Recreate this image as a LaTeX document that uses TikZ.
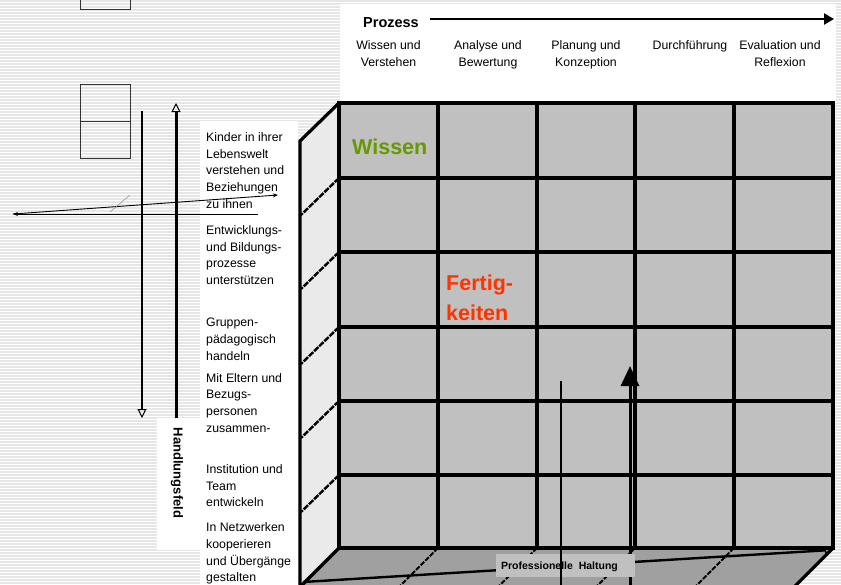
\documentclass[tikz,border=0pt]{standalone}
\usepackage{fontspec}
\setmainfont{Liberation Sans}
\usetikzlibrary{arrows.meta}
\definecolor{frontgray}{HTML}{C0C0C0}
\definecolor{sidegray}{HTML}{EAEAEA}
\definecolor{floorgray}{HTML}{A0A0A0}
\definecolor{wgreen}{HTML}{669900}
\definecolor{fred}{HTML}{FF3300}
\definecolor{stripecol}{HTML}{E6E6E6}
\begin{document}
\begin{tikzpicture}[x=1pt,y=-1pt,
  stripeline/.style={stripecol, line width=1.1pt},
  gridline/.style={line width=3.2pt, line cap=rect},
  edgeline/.style={line width=3.2pt, line cap=round},
  sidegrid/.style={line width=2.4pt, dash pattern=on 6pt off 1.2pt},
  floorgrid/.style={line width=1.8pt, dash pattern=on 5pt off 1.5pt},
  hdr/.style={font=\fontsize{12.3}{15}\selectfont, anchor=base, inner sep=0pt},
  rowlab/.style={font=\fontsize{12.3}{15}\selectfont, anchor=base west, inner sep=0pt},
  bigword/.style={font=\bfseries\fontsize{21.5}{24}\selectfont, anchor=base west, inner sep=0pt},
  smallbox/.style={draw=black!80, line width=1pt, minimum width=50pt, inner sep=0pt},
  openhead/.style={-{Triangle[open,length=9pt,width=9pt,line width=1pt]}},
  thinarrow/.style={line width=0.9pt, -{Stealth[length=5pt,width=4pt]}}
]
\clip (0,0) rectangle (841,584);
% background
\foreach \y in {1,4,...,584} \draw[stripeline] (0,\y) -- (841,\y);
\fill[white] (340,4) rectangle (836,103);
\fill[white] (200,121) rectangle (298,584);
\fill[white] (157,418) rectangle (200,550);

% small boxes on the left
\node[smallbox, minimum height=30pt, anchor=south west] (b0) at (80,9.5) {};
\node[smallbox, minimum height=37pt, anchor=north west] (b1) at (80,84) {};
\node[smallbox, minimum height=37pt, anchor=north west] (b2) at (80,121) {};

% vertical arrows left
\coordinate (dA) at (142,111);
\coordinate (dB) at (142,418);
\draw[line width=2.4pt, openhead] (dA) -- (dB);
\coordinate (uA) at (176,418);
\coordinate (uB) at (176,103);
\draw[line width=3pt, openhead] (uA) -- (uB);

% thin arrows
\coordinate (h1) at (258,214);
\coordinate (h0) at (13,214);
\coordinate (s1) at (278,195);
\draw[thinarrow] (h1) -- (h0);
\draw[thinarrow] (h0) -- (s1);
\coordinate (g0) at (110,212);
\coordinate (g1) at (130,195);
\draw[black!40, line width=0.6pt] (g0) -- (g1);

% cube faces
\fill[sidegray] (339,103) -- (300,141) -- (300,590) -- (339,548) -- cycle;
\fill[floorgray] (339,548) -- (833,548) -- (795,586) -- (301,586) -- cycle;
\fill[frontgray] (339,103) rectangle (833,548);

% side and floor grid
\foreach \y in {178,252,327,401,475} \draw[sidegrid] (339,\y) -- (301,\y+37);
\foreach \x in {438,537,635,734} \draw[floorgrid] (\x,548) -- (\x-38,586);
\draw[edgeline] (339,103) -- (300,141) -- (300,590);
\draw[edgeline] (339,548) -- (301,586);
\draw[edgeline] (833,548) -- (795,586);

% front grid
\foreach \x in {339,438,537,635,734,833} \draw[gridline] (\x,103) -- (\x,548);
\foreach \y in {103,178,252,327,401,475,548} \draw[gridline] (339,\y) -- (833,\y);

% process header
\node[font=\bfseries\fontsize{14.5}{16}\selectfont, anchor=base west, inner sep=0pt] (prozess) at (363,27) {Prozess};
\coordinate (pA) at (430,19);
\coordinate (pB) at (834,19);
\draw[line width=2.2pt, -{Triangle[length=10pt,width=11pt]}] (pA) -- (pB);

\node[hdr] (c1a) at (388.5,49.3) {Wissen und};
\node[hdr] (c1b) at (388.5,66) {Verstehen};
\node[hdr] (c2a) at (488,49.3) {Analyse und};
\node[hdr] (c2b) at (488,66) {Bewertung};
\node[hdr] (c3a) at (586,49.3) {Planung und};
\node[hdr] (c3b) at (586,66) {Konzeption};
\node[hdr] (c4a) at (690,49.3) {Durchführung};
\node[hdr] (c5a) at (780,49.3) {Evaluation und};
\node[hdr] (c5b) at (780,66) {Reflexion};

% row labels
\foreach \t [count=\i] in {Kinder in ihrer,Lebenswelt,verstehen und,Beziehungen,zu ihnen}
  \node[rowlab] (ra\i) at (206,141.5+16.7*\i-16.7) {\t};
\foreach \t [count=\i] in {Entwicklungs-,und Bildungs-,prozesse,unterstützen}
  \node[rowlab] (rb\i) at (206,234.4+16.7*\i-16.7) {\t};
\foreach \t [count=\i] in {Gruppen-,pädagogisch,handeln}
  \node[rowlab] (rc\i) at (206,326.7+16.7*\i-16.7) {\t};
\foreach \t [count=\i] in {Mit Eltern und,Bezugs-,personen,zusammen-}
  \node[rowlab] (rd\i) at (206,382+16.7*\i-16.7) {\t};
\foreach \t [count=\i] in {Institution und,Team,entwickeln}
  \node[rowlab] (re\i) at (206,473.3+16.7*\i-16.7) {\t};
\foreach \t [count=\i] in {In Netzwerken,kooperieren,und Übergänge,gestalten}
  \node[rowlab] (rf\i) at (206,531.7+16.7*\i-16.7) {\t};

\node[font=\bfseries\fontsize{13}{15}\selectfont, rotate=-90, inner sep=0pt] (hf) at (177,473) {Handlungsfeld};

% words in the cube
\node[bigword, text=wgreen] (wissen) at (352,154) {Wissen};
\node[bigword, text=fred] (fert1) at (446,290.5) {Fertig-};
\node[bigword, text=fred] (fert2) at (446,320.5) {keiten};

% professional attitude
\coordinate (ua) at (630,590);
\coordinate (ub) at (630,366);
\draw[line width=3pt, -{Triangle[length=20pt,width=18pt]}] (ua) -- (ub);
\coordinate (fa) at (303,582);
\coordinate (fb) at (831,550);
\draw[line width=2.4pt, -{Triangle[open,length=6pt,width=6pt,line width=0.8pt]}] (fa) -- (fb);
\fill[frontgray] (496,554) rectangle (635,577);
\node[font=\bfseries\fontsize{10.5}{12}\selectfont, inner sep=0pt, anchor=base] (ph) at (559.5,569.5) {Professionelle\ \ Haltung};
\coordinate (va) at (561,381);
\coordinate (vb) at (561,590);
\draw[line width=2.4pt] (va) -- (vb);
\end{tikzpicture}
\end{document}
